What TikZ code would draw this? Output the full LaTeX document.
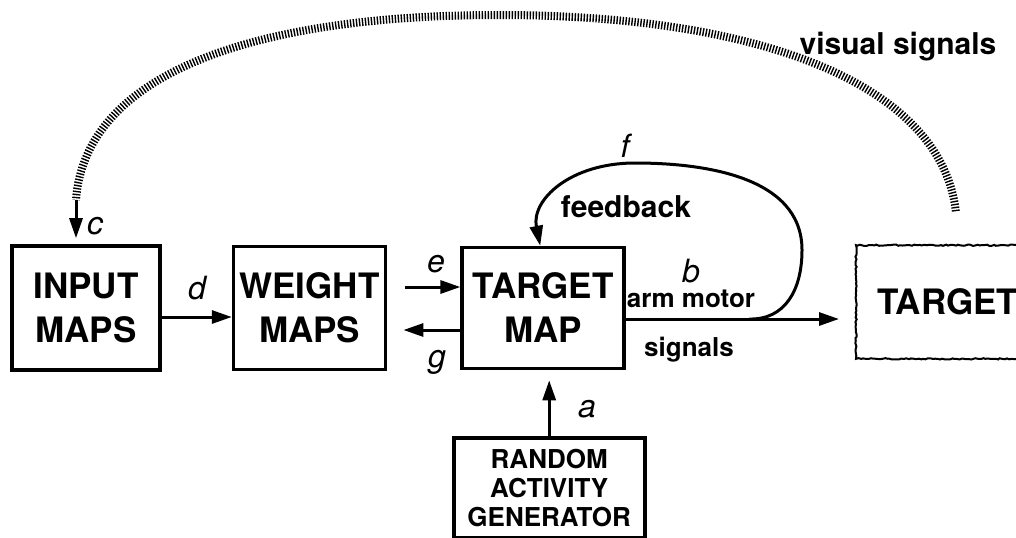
\documentclass[tikz,border=0pt]{standalone}
\usepackage{fontspec}
\setmainfont{TeX Gyre Heros}
\usetikzlibrary{arrows.meta,positioning,decorations.pathmorphing}

\begin{document}
\begin{tikzpicture}[x=0.5pt, y=-0.5pt, >={Triangle[length=10pt,width=6.5pt]}, line width=1.5pt,
  box/.style={draw, line width=1.8pt, inner sep=0pt, align=center, font=\bfseries\fontsize{17.5}{22}\selectfont},
  tag/.style={inner sep=1pt, font=\itshape\fontsize{16}{16}\selectfont},
  note/.style={inner sep=1pt, font=\bfseries\fontsize{15}{15}\selectfont},
  small/.style={inner sep=1pt, font=\bfseries\fontsize{13}{13}\selectfont}]
  \useasboundingbox (0,0) rectangle (1016,537);
  \node[box, minimum width=74pt, minimum height=62pt] (input) at (86,308) {INPUT\\MAPS};
  \node[box, right=35pt of input, minimum width=76pt, minimum height=61.5pt] (weight) {WEIGHT\\MAPS};
  \node[box, right=36.5pt of weight, minimum width=81pt, minimum height=60.5pt] (tmap) {TARGET\\MAP};
  \node[box, draw=none, right=115pt of tmap, yshift=3pt, minimum width=90pt, minimum height=55pt] (target) {TARGET};
  \draw[line width=1pt, decorate, decoration={random steps, segment length=1.2pt, amplitude=0.35pt}]
    (target.north west) rectangle (target.south east);
  \node[box, below=33pt of tmap, xshift=3pt, minimum width=95.5pt, minimum height=50pt,
    font=\bfseries\fontsize{13}{14.5}\selectfont] (rag) {RANDOM\\ACTIVITY\\GENERATOR};

  % connections between the maps
  \draw[->] ([yshift=-4.5pt]input.east) -- ([yshift=-4.5pt]input.east -| weight.west);
  \draw[->, shorten <=9pt] ([yshift=10.5pt]weight.east) -- ([yshift=10.5pt]weight.east -| tmap.west);
  \draw[->, shorten >=8pt] ([yshift=-11pt]tmap.west) -- ([yshift=-11pt]tmap.west -| weight.east);
  \draw[->, shorten >=5pt] (rag.north) -- (rag.north |- tmap.south);
  \draw[->, shorten >=8.5pt] ([yshift=-5.5pt]tmap.east) -- coordinate[pos=0.535] (fb) ([yshift=-5.5pt]tmap.east -| target.west);

  % feedback loop
  \draw[->] (fb) .. controls (785,320) and (802,290) .. (802,250)
    .. controls (802,175) and (700,163) .. (635,163)
    .. controls (570,163) and (531,200) .. ([xshift=-1.5pt]tmap.north);

  % visual signals back to the input
  \coordinate (vtop) at ([xshift=4pt, yshift=17pt]target.north);
  \coordinate (vbot) at (76,200);
  \draw[line width=4pt, dash pattern=on 0.7pt off 0.8pt] (vtop) .. controls (940,80) and (750,15) .. (500,15)
    .. controls (250,15) and (85,75) .. (vbot);
  \draw[->, shorten >=3pt] (vbot) -- (vbot |- input.north);

  % labels
  \node[tag] (lc) at (95,226) {c};
  \node[tag] (ld) at (197,288) {d};
  \node[tag] (le) at (436,264) {e};
  \node[tag] (lg) at (437,362) {g};
  \node[tag] (la) at (587,409) {a};
  \node[tag] (lb) at (691,271) {b};
  \node[tag] (lf) at (625,146) {f};
  \node[note] (fbtext) at (626,207) {feedback};
  \node[small] (motor) at (691,299) {arm motor};
  \node[small] (signals) at (689,350) {signals};
  \node[note] (vis) at (898,47) {visual signals};
\end{tikzpicture}
\end{document}
